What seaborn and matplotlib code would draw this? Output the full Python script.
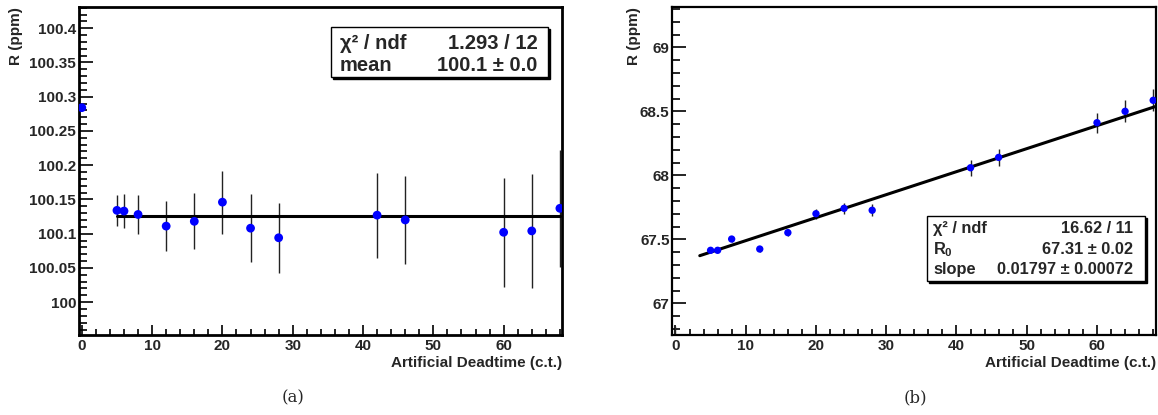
import matplotlib
matplotlib.use("Agg")
import matplotlib.pyplot as plt
import matplotlib.patches as mpatches
from matplotlib.ticker import MultipleLocator
import seaborn as sns
import pandas as pd

# data (a): R vs artificial deadtime, constant fit
deadtime_a = [0, 5, 6, 8, 12, 16, 20, 24, 28, 42, 46, 60, 64, 68]
r_a = [100.284, 100.134, 100.133, 100.128, 100.111, 100.118, 100.146,
       100.108, 100.094, 100.127, 100.120, 100.102, 100.104, 100.137]
err_a = [0.0, 0.023, 0.025, 0.029, 0.036, 0.041, 0.046,
         0.050, 0.051, 0.062, 0.064, 0.080, 0.083, 0.085]
fit_x_a = [5, 68]
fit_y_a = [100.126, 100.126]
stats_a = [("χ² / ndf", "1.293 / 12"), ("mean", "100.1 ± 0.0")]

# data (b): R vs artificial deadtime, linear fit
deadtime_b = [0, 5, 6, 8, 12, 16, 20, 24, 28, 42, 46, 60, 64, 68]
r_b = [66.70, 67.414, 67.414, 67.502, 67.424, 67.552, 67.700,
       67.742, 67.727, 68.059, 68.140, 68.411, 68.500, 68.586]
err_b = [0.12, 0.010, 0.011, 0.022, 0.025, 0.030, 0.038,
         0.043, 0.048, 0.061, 0.064, 0.078, 0.085, 0.087]
fit_x_b = [3.46, 68.3]
fit_y_b = [67.372, 68.537]
stats_b = [("χ² / ndf", "16.62 / 11"), ("R$_\\mathbf{0}$", "67.31 ± 0.02"),
           ("slope", "0.01797 ± 0.00072")]

sns.set_style("white")
plt.rcParams["font.family"] = ["Liberation Sans", "DejaVu Sans"]
plt.rcParams["font.weight"] = "bold"
plt.rcParams["mathtext.fontset"] = "custom"
plt.rcParams["mathtext.rm"] = "Liberation Sans:bold"
plt.rcParams["mathtext.bf"] = "Liberation Sans:bold"
plt.rcParams["mathtext.default"] = "bf"

fig = plt.figure(figsize=(11.58, 4.15), dpi=100)
W, H = 1158, 415


def px_axes(x0, y0, x1, y1):
    return fig.add_axes([x0 / W, 1 - y1 / H, (x1 - x0) / W, (y1 - y0) / H])


def draw_panel(ax, x, y, e, fx, fy, ms, xlim, ylim, ymaj, ymin, lw_frame):
    df = pd.DataFrame({"x": x, "y": y, "e": e})
    ax.errorbar(df["x"], df["y"], yerr=df["e"], fmt="none", ecolor="#222222",
                elinewidth=1.0, capsize=0, zorder=2)
    sns.lineplot(x=fx, y=fy, ax=ax, color="black", linewidth=2.2, zorder=3)
    sns.scatterplot(data=df, x="x", y="y", ax=ax, color="#0000ff", s=ms,
                    edgecolor="none", zorder=4, clip_on=True)
    ax.set_xlim(*xlim)
    ax.set_ylim(*ylim)
    ax.xaxis.set_major_locator(MultipleLocator(10))
    ax.xaxis.set_minor_locator(MultipleLocator(2))
    ax.yaxis.set_major_locator(MultipleLocator(ymaj))
    ax.yaxis.set_minor_locator(MultipleLocator(ymin))
    ax.tick_params(axis="both", which="both", direction="in", top=False,
                   right=False, left=True, bottom=True, labelsize=11,
                   width=1.2, color="black")
    ax.tick_params(axis="y", which="major", length=10, pad=2)
    ax.tick_params(axis="y", which="minor", length=5.5)
    ax.tick_params(axis="x", which="major", length=7.5, pad=3)
    ax.tick_params(axis="x", which="minor", length=4)
    for s in ax.spines.values():
        s.set_linewidth(lw_frame)
        s.set_color("black")
    for t in ax.get_xticklabels() + ax.get_yticklabels():
        t.set_fontweight("bold")
    ax.set_xlabel("Artificial Deadtime (c.t.)", fontsize=11, fontweight="bold",
                  loc="right")
    ax.set_ylabel("R (ppm)", fontsize=11, fontweight="bold", loc="top")


def stats_box(ax, x0, x1, y0, y1, tx0, tx1, rows_y, rows, fs):
    sh = 2.0
    dx = sh / (ax.bbox.width)
    dy = sh / (ax.bbox.height)
    ax.add_patch(mpatches.Rectangle((x0 + dx, y0 - dy), x1 - x0, y1 - y0,
                                    transform=ax.transAxes, facecolor="black",
                                    edgecolor="black", zorder=5))
    ax.add_patch(mpatches.Rectangle((x0, y0), x1 - x0, y1 - y0,
                                    transform=ax.transAxes, facecolor="white",
                                    edgecolor="black", linewidth=1.0, zorder=6))
    for (lab, val), ry in zip(rows, rows_y):
        ax.text(tx0, ry, lab, transform=ax.transAxes, ha="left", va="center",
                fontsize=fs, fontweight="bold", zorder=7)
        ax.text(tx1, ry, val, transform=ax.transAxes, ha="right", va="center",
                fontsize=fs, fontweight="bold", zorder=7)


# panel (a)
ax1 = px_axes(79, 7, 562, 335)
draw_panel(ax1, deadtime_a, r_a, err_a, fit_x_a, fit_y_a, 40,
           (-0.4, 68.3), (99.952, 100.431), 0.05, 0.01, 2.0)
ax1.yaxis.set_major_formatter(plt.FuncFormatter(lambda v, p: f"{v:g}"))
ax1.yaxis.set_label_coords(-0.116, 1.0)
ax1.xaxis.set_label_coords(1.0, -0.064)
stats_box(ax1, 0.521, 0.970, 0.786, 0.938, 0.540, 0.949, [0.890, 0.823],
          stats_a, 14.5)

# panel (b)
ax2 = px_axes(672.3, 7, 1156, 335.3)
draw_panel(ax2, deadtime_b, r_b, err_b, fit_x_b, fit_y_b, 28,
           (-0.45, 68.4), (66.75, 69.315), 0.5, 0.1, 1.6)
ax2.yaxis.set_major_formatter(plt.FuncFormatter(lambda v, p: f"{v:g}"))
ax2.yaxis.set_label_coords(-0.065, 1.0)
ax2.xaxis.set_label_coords(1.0, -0.064)
stats_box(ax2, 0.526, 0.977, 0.166, 0.363, 0.540, 0.953, [0.326, 0.262, 0.201],
          stats_b, 11.8)

fig.text(293 / W, 1 - 398 / H, "(a)", ha="center", va="center", fontsize=12,
         family="DejaVu Serif", fontweight="normal")
fig.text(915 / W, 1 - 398 / H, "(b)", ha="center", va="center", fontsize=12,
         family="DejaVu Serif", fontweight="normal")

fig.savefig("out.png", dpi=100)
